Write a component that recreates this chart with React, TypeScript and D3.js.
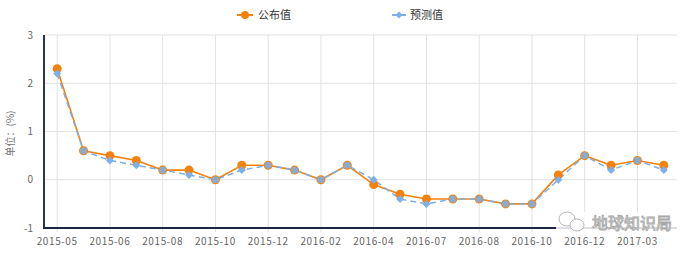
import React from "react";
import * as d3 from "d3";

const tickLabels = [
  "2015-05", "2015-06", "2015-08", "2015-10", "2015-12", "2016-02",
  "2016-04", "2016-07", "2016-08", "2016-10", "2016-12", "2017-03",
];
const published = [2.3, 0.6, 0.5, 0.4, 0.2, 0.2, 0.0, 0.3, 0.3, 0.2, 0.0, 0.3,
  -0.1, -0.3, -0.4, -0.4, -0.4, -0.5, -0.5, 0.1, 0.5, 0.3, 0.4, 0.3];
const forecast = [2.2, 0.6, 0.4, 0.3, 0.2, 0.1, 0.0, 0.2, 0.3, 0.2, 0.0, 0.3,
  0.0, -0.4, -0.5, -0.4, -0.4, -0.5, -0.5, 0.0, 0.5, 0.2, 0.4, 0.2];
const yTicks = [-1, 0, 1, 2, 3];
const seriesNames = ["公布值", "预测值"];

const W = 700, H = 256;
const left = 44, right = 677, top = 35, bottom = 228;
const ORANGE = "#f5820f";
const BLUE = "#7cb0e6";
const FONT = "'Noto Sans CJK SC', 'Noto Sans', sans-serif";

export default function App() {
  const idx = d3.range(published.length);
  const x = d3.scalePoint<number>().domain(idx).range([left, right]).padding(0.5);
  const y = d3.scaleLinear().domain([-1, 3]).range([bottom, top]);
  const line = d3.line<number>().x((_, i) => x(i)!).y((d) => y(d));
  const diamond = (cx: number, cy: number, r: number) =>
    `M${cx},${cy - r}L${cx + r},${cy}L${cx},${cy + r}L${cx - r},${cy}Z`;

  return (
    <svg width={W} height={H} style={{ position: "absolute", left: 0, top: 0, background: "#fff" }} fontFamily={FONT}>
      <rect width={W} height={H} fill="#fff" />
      {yTicks.filter((t) => t > -1).map((t) => (
        <line key={t} x1={left} x2={right} y1={y(t)} y2={y(t)} stroke="#e2e2e2" strokeWidth={1} />
      ))}
      {tickLabels.map((lab, k) => (
        <line key={lab} x1={x(k * 2)!} x2={x(k * 2)!} y1={top} y2={bottom + 4} stroke="#e2e2e2" strokeWidth={1} />
      ))}
      <line x1={left} x2={left} y1={top} y2={bottom + 1} stroke="#2d3350" strokeWidth={2} />
      <line x1={left - 1} x2={right} y1={bottom} y2={bottom} stroke="#1c2542" strokeWidth={2} />
      {yTicks.map((t) => (
        <text key={t} x={33} y={y(t)} dy="0.35em" textAnchor="end" fontSize={10} fill="#666">{t}</text>
      ))}
      <text transform={`translate(14,${(top + bottom) / 2 + 2}) rotate(-90)`} textAnchor="middle" fontSize={10} fill="#777">单位：(%)</text>
      {tickLabels.map((lab, k) => (
        <text key={lab} x={x(k * 2)!} y={245} textAnchor="middle" fontSize={10} fill="#666" letterSpacing={0.6}>{lab}</text>
      ))}
      <path d={line(published)!} fill="none" stroke={ORANGE} strokeWidth={1.6} />
      <path d={line(forecast)!} fill="none" stroke={BLUE} strokeWidth={1.5} strokeDasharray="6,4" />
      {published.map((v, i) => (
        <circle key={"p" + i} cx={x(i)!} cy={y(v)} r={4.5} fill={ORANGE} />
      ))}
      {forecast.map((v, i) =>
        v === published[i] ? (
          <circle key={"f" + i} cx={x(i)!} cy={y(v)} r={3.6} fill="#90a9c6" />
        ) : (
          <path key={"f" + i} d={diamond(x(i)!, y(v), 4)} fill={BLUE} />
        )
      )}
      <g transform="translate(237,15)">
        <line x1={0} x2={16} y1={0} y2={0} stroke={ORANGE} strokeWidth={2} />
        <circle cx={8} cy={0} r={4} fill={ORANGE} />
        <text x={21} y={0} dy="0.35em" fontSize={11} fill="#333">{seriesNames[0]}</text>
      </g>
      <g transform="translate(392,15)">
        <line x1={0} x2={14} y1={0} y2={0} stroke={BLUE} strokeWidth={2} />
        <path d={diamond(7, 0, 3.5)} fill={BLUE} />
        <text x={18} y={0} dy="0.35em" fontSize={11} fill="#333">{seriesNames[1]}</text>
      </g>
      <rect x={556} y={212} width={124} height={23} fill="#fff" opacity={0.85} />
      <g transform="translate(572,222)" fill="#fff" stroke="#b8b8b8" strokeWidth={1}>
        <ellipse cx={-5} cy={-3} rx={8} ry={7} />
        <ellipse cx={5} cy={3} rx={7} ry={6} />
      </g>
      <text x={592} y={229} fontSize={16} fill="#fff" stroke="#a9a9a9" strokeWidth={0.9} fontFamily={FONT}>地球知识局</text>
    </svg>
  );
}
